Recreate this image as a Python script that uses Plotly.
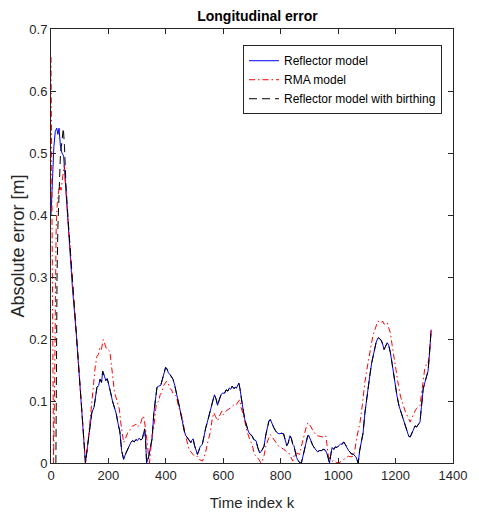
import plotly.graph_objects as go

# Longitudinal error of the three tracking models, sampled (time index k, absolute error in m)
REFLECTOR = [
    (0, 0.40), (5, 0.46), (10, 0.51), (15, 0.535), (20, 0.54), (24, 0.53), (28, 0.54), (33, 0.51),
    (38, 0.50), (44, 0.495), (52, 0.44), (60, 0.39), (69, 0.33), (75, 0.28), (88, 0.21), (105, 0.10),
    (120, 0.0), (128, 0.03), (135, 0.06), (142, 0.081), (150, 0.09), (155, 0.11), (160, 0.122),
    (166, 0.125), (171, 0.135), (176, 0.13), (180, 0.148), (186, 0.14), (191, 0.133), (196, 0.136),
    (201, 0.128), (207, 0.115), (214, 0.10), (221, 0.089), (227, 0.08), (233, 0.065), (240, 0.05),
    (246, 0.02), (253, 0.006), (260, 0.015), (266, 0.022), (272, 0.028), (278, 0.033), (284, 0.036),
    (290, 0.034), (296, 0.038), (301, 0.036), (307, 0.04), (313, 0.037), (318, 0.039), (322, 0.047),
    (326, 0.055), (329, 0.04), (333, 0.0), (340, 0.01), (346, 0.025), (352, 0.039), (358, 0.08),
    (364, 0.105), (369, 0.122), (375, 0.124), (382, 0.125), (388, 0.135), (394, 0.148), (399, 0.154),
    (404, 0.152), (409, 0.145), (414, 0.143), (420, 0.138), (425, 0.135), (431, 0.125), (437, 0.11),
    (443, 0.097), (448, 0.089), (454, 0.075), (460, 0.06), (465, 0.05), (470, 0.044), (476, 0.04),
    (481, 0.036), (487, 0.033), (491, 0.037), (495, 0.039), (500, 0.028), (505, 0.02), (510, 0.014),
    (515, 0.02), (520, 0.027), (527, 0.03), (533, 0.045), (539, 0.057), (544, 0.065), (550, 0.077),
    (558, 0.089), (564, 0.1), (569, 0.11), (575, 0.103), (580, 0.093), (586, 0.102), (592, 0.11),
    (598, 0.113), (604, 0.112), (610, 0.118), (616, 0.116), (621, 0.121), (626, 0.119), (631, 0.124),
    (637, 0.12), (642, 0.122), (646, 0.121), (651, 0.126), (654, 0.129), (658, 0.12), (663, 0.1),
    (668, 0.089), (675, 0.07), (682, 0.058), (688, 0.05), (694, 0.046), (700, 0.044), (706, 0.038),
    (714, 0.036), (720, 0.025), (727, 0.016), (734, 0.02), (742, 0.027), (748, 0.045), (754, 0.06),
    (759, 0.068), (764, 0.07), (770, 0.062), (776, 0.057), (782, 0.052), (787, 0.049), (794, 0.047),
    (802, 0.048), (810, 0.047), (815, 0.04), (821, 0.028), (826, 0.032), (832, 0.044), (837, 0.04),
    (842, 0.03), (846, 0.028), (851, 0.016), (855, 0.009), (862, 0.003), (868, 0.0), (872, 0.0),
    (877, 0.01), (883, 0.022), (889, 0.035), (894, 0.044), (898, 0.044), (904, 0.036), (912, 0.028),
    (918, 0.024), (923, 0.02), (928, 0.018), (935, 0.02), (942, 0.02), (948, 0.022), (955, 0.021),
    (962, 0.014), (966, 0.008), (970, 0.0), (975, 0.015), (979, 0.025), (985, 0.022), (990, 0.026),
    (996, 0.025), (1003, 0.028), (1009, 0.031), (1014, 0.03), (1019, 0.034), (1025, 0.03),
    (1030, 0.024), (1036, 0.02), (1041, 0.018), (1045, 0.015), (1053, 0.014), (1058, 0.012),
    (1062, 0.01), (1066, 0.005), (1070, 0.0), (1075, 0.02), (1081, 0.035), (1087, 0.049),
    (1093, 0.08), (1098, 0.1), (1104, 0.119), (1110, 0.14), (1117, 0.162), (1124, 0.18),
    (1132, 0.194), (1137, 0.2), (1140, 0.202), (1146, 0.2), (1151, 0.197), (1156, 0.19),
    (1160, 0.183), (1165, 0.188), (1171, 0.194), (1176, 0.19), (1182, 0.178), (1188, 0.16),
    (1194, 0.14), (1199, 0.125), (1205, 0.108), (1212, 0.092), (1218, 0.084), (1222, 0.076),
    (1228, 0.068), (1233, 0.062), (1237, 0.057), (1242, 0.05), (1246, 0.043), (1251, 0.042),
    (1256, 0.048), (1262, 0.055), (1268, 0.06), (1273, 0.058), (1279, 0.062), (1285, 0.066),
    (1290, 0.09), (1296, 0.119), (1302, 0.13), (1308, 0.14), (1313, 0.148), (1318, 0.175),
    (1324, 0.215),
]

RMA = [
    (0, 0.655), (3, 0.45), (6, 0.2), (9, 0.0), (12, 0.1), (15, 0.25), (18, 0.38), (22, 0.42),
    (26, 0.44), (30, 0.45), (35, 0.44), (40, 0.46), (46, 0.48), (52, 0.44), (60, 0.39), (69, 0.33),
    (75, 0.28), (88, 0.21), (105, 0.10), (120, 0.0), (126, 0.02), (132, 0.05), (137, 0.08),
    (142, 0.102), (148, 0.13), (154, 0.155), (160, 0.172), (165, 0.175), (170, 0.185), (175, 0.182),
    (182, 0.199), (188, 0.19), (194, 0.183), (200, 0.182), (205, 0.18), (210, 0.16), (216, 0.135),
    (221, 0.114), (227, 0.105), (233, 0.095), (238, 0.087), (243, 0.065), (248, 0.045), (253, 0.033),
    (258, 0.038), (263, 0.045), (268, 0.05), (272, 0.051), (278, 0.055), (284, 0.06), (289, 0.06),
    (295, 0.063), (300, 0.058), (306, 0.06), (311, 0.062), (316, 0.07), (321, 0.076), (325, 0.07),
    (329, 0.055), (332, 0.05), (336, 0.03), (340, 0.008), (343, 0.0), (347, 0.02), (352, 0.045),
    (357, 0.054), (362, 0.08), (366, 0.092), (369, 0.097), (375, 0.1), (380, 0.11), (386, 0.114),
    (392, 0.125), (398, 0.13), (403, 0.132), (408, 0.128), (414, 0.12), (420, 0.118), (425, 0.112),
    (431, 0.11), (437, 0.107), (443, 0.093), (448, 0.085), (454, 0.075), (459, 0.07), (465, 0.05),
    (470, 0.04), (476, 0.027), (482, 0.02), (487, 0.018), (493, 0.014), (498, 0.012), (504, 0.01),
    (510, 0.011), (516, 0.006), (522, 0.004), (527, 0.003), (532, 0.008), (538, 0.016), (544, 0.03),
    (550, 0.04), (555, 0.05), (561, 0.07), (567, 0.081), (573, 0.075), (580, 0.068), (586, 0.075),
    (591, 0.082), (595, 0.084), (600, 0.078), (606, 0.082), (612, 0.085), (617, 0.086), (623, 0.088),
    (628, 0.09), (634, 0.092), (640, 0.095), (645, 0.094), (650, 0.098), (657, 0.102), (662, 0.09),
    (668, 0.08), (674, 0.07), (680, 0.055), (686, 0.045), (692, 0.038), (697, 0.033), (703, 0.025),
    (708, 0.014), (714, 0.012), (719, 0.009), (725, 0.005), (731, 0.0), (736, 0.004), (742, 0.012),
    (748, 0.027), (753, 0.035), (758, 0.04), (764, 0.046), (770, 0.042), (776, 0.038), (782, 0.033),
    (787, 0.03), (793, 0.027), (799, 0.026), (805, 0.023), (810, 0.022), (816, 0.02), (822, 0.018),
    (827, 0.017), (833, 0.012), (838, 0.006), (842, 0.003), (846, 0.01), (850, 0.017), (856, 0.016),
    (861, 0.015), (866, 0.014), (871, 0.025), (878, 0.039), (884, 0.05), (890, 0.06), (895, 0.065),
    (900, 0.062), (906, 0.058), (912, 0.052), (918, 0.048), (923, 0.045), (928, 0.044), (934, 0.043),
    (940, 0.042), (946, 0.042), (951, 0.044), (957, 0.044), (961, 0.03), (966, 0.011), (972, 0.005),
    (979, 0.003), (986, 0.004), (993, 0.001), (1002, 0.0), (1010, 0.003), (1019, 0.005),
    (1027, 0.008), (1036, 0.011), (1044, 0.01), (1053, 0.011), (1058, 0.02), (1064, 0.039),
    (1070, 0.05), (1076, 0.065), (1082, 0.085), (1087, 0.108), (1093, 0.13), (1098, 0.145),
    (1104, 0.159), (1110, 0.178), (1115, 0.19), (1121, 0.205), (1127, 0.215), (1133, 0.225),
    (1138, 0.229), (1143, 0.228), (1149, 0.226), (1155, 0.229), (1160, 0.224), (1166, 0.224),
    (1171, 0.226), (1176, 0.218), (1182, 0.21), (1188, 0.19), (1194, 0.17), (1199, 0.157),
    (1205, 0.14), (1210, 0.125), (1217, 0.108), (1222, 0.1), (1228, 0.09), (1233, 0.084),
    (1239, 0.078), (1245, 0.072), (1251, 0.066), (1256, 0.072), (1262, 0.079), (1268, 0.084),
    (1273, 0.088), (1279, 0.09), (1285, 0.092), (1290, 0.11), (1296, 0.135), (1301, 0.15),
    (1307, 0.159), (1313, 0.159), (1318, 0.18), (1324, 0.215),
]

# The birthing variant starts later; once born it coincides with the reflector model
BIRTH_START = [
    (17, 0.0), (19, 0.18), (21, 0.3), (24, 0.38), (27, 0.43), (30, 0.47), (33, 0.50), (36, 0.51),
    (40, 0.53), (43, 0.54), (47, 0.51), (52, 0.45),
]
BIRTH_JOIN_K = 60

X_TICKS = [0, 200, 400, 600, 800, 1000, 1200, 1400]
Y_TICKS = [0, 0.1, 0.2, 0.3, 0.4, 0.5, 0.6, 0.7]

refl_k, refl_v = zip(*REFLECTOR)
rma_k, rma_v = zip(*RMA)
birth = BIRTH_START + [p for p in REFLECTOR if p[0] >= BIRTH_JOIN_K]
birth_k, birth_v = zip(*birth)

FONT = "Liberation Sans, Arial, Helvetica, sans-serif"
AXIS_COLOR = "#262626"

fig = go.Figure()
fig.add_trace(go.Scatter(x=refl_k, y=refl_v, mode="lines", name="Reflector model",
                         line=dict(color="#0000ff", width=1)))
fig.add_trace(go.Scatter(x=rma_k, y=rma_v, mode="lines", name="RMA model",
                         line=dict(color="#ff0000", width=1, dash="6px,3px,1.5px,3px")))
fig.add_trace(go.Scatter(x=birth_k, y=birth_v, mode="lines", name="Reflector model with birthing",
                         line=dict(color="#000000", width=1, dash="8px,5px")))

axis_common = dict(
    showline=True, linecolor=AXIS_COLOR, linewidth=1, mirror="ticks",
    ticks="inside", ticklen=5, tickwidth=1, tickcolor=AXIS_COLOR,
    showgrid=False, zeroline=False,
    tickfont=dict(family=FONT, size=13, color=AXIS_COLOR),
)

fig.update_xaxes(range=[0, 1400], tickvals=X_TICKS, ticktext=[str(v) for v in X_TICKS],
                 title=dict(text="Time index k", font=dict(family=FONT, size=15, color=AXIS_COLOR),
                            standoff=15),
                 **axis_common)
fig.update_yaxes(range=[0, 0.7], tickvals=Y_TICKS, ticktext=[f"{v:g}" for v in Y_TICKS],
                 title=dict(text="Absolute error [m]", font=dict(family=FONT, size=18, color=AXIS_COLOR),
                            standoff=0),
                 **axis_common)

fig.update_layout(
    width=479, height=520,
    margin=dict(l=51, r=15, t=29, b=56),
    paper_bgcolor="white", plot_bgcolor="white",
    title=dict(text="<b>Longitudinal error</b>", x=(51 + 464) / 2 / 479, xanchor="center",
               y=1 - 16 / 520, yanchor="middle",
               font=dict(family=FONT, size=14, color="#000000")),
    legend=dict(x=0.9726, y=0.9626, xanchor="right", yanchor="top",
                bgcolor="white", bordercolor=AXIS_COLOR, borderwidth=1,
                font=dict(family=FONT, size=12, color="#000000"),
                itemwidth=30, tracegroupgap=0),
    showlegend=True,
)

fig.write_html("out.html")
